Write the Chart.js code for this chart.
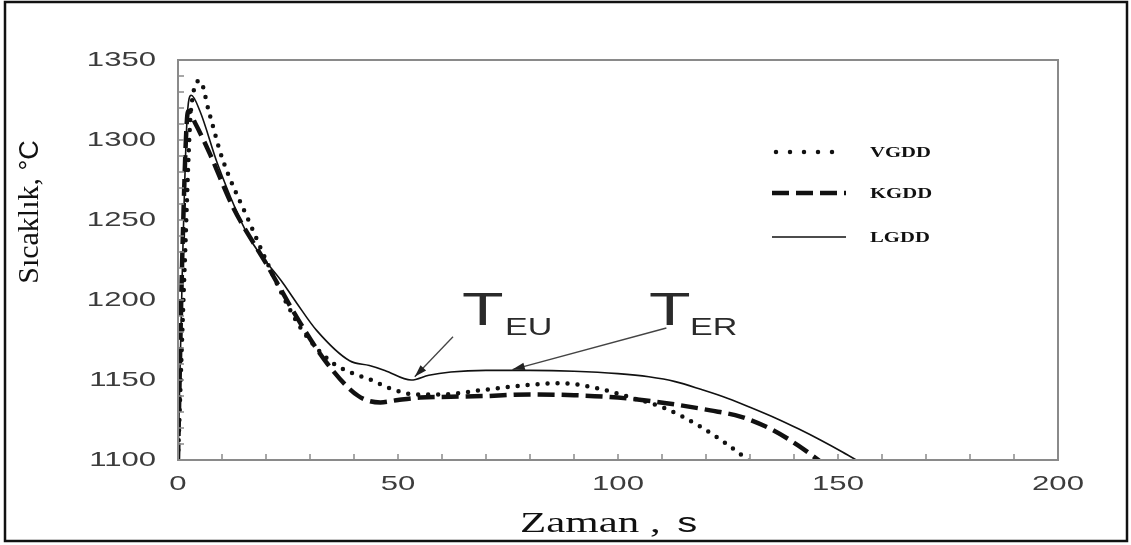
<!DOCTYPE html>
<html>
<head>
<meta charset="utf-8">
<script src="https://cdn.jsdelivr.net/npm/chart.js@4.4.1/dist/chart.umd.min.js"></script>
<style>
  html, body { margin: 0; padding: 0; background: #fff; }
</style>
</head>
<body>
<canvas id="tempChart" width="1131" height="545"></canvas>
<script>
// values (time in s, temperature in °C)
const vgddTime = [0, 1.5, 3, 5, 7, 10, 16, 20, 24.3, 28, 34.5, 39, 44, 48, 54, 60, 70, 80, 87, 95, 103, 111, 118.6, 124.7, 130];
const vgddTemp = [1100, 1220, 1320, 1337, 1318, 1289, 1250, 1225, 1200, 1182, 1162, 1155, 1150, 1145, 1141, 1141, 1144, 1147, 1148, 1145, 1139, 1132, 1121, 1110, 1099];

const kgddTime = [0, 1, 2.3, 4, 7.3, 12.5, 20.2, 27.7, 34, 41, 46, 50, 55, 62, 70, 80, 90, 100, 111, 121, 128, 135, 141, 146];
const kgddTemp = [1100, 1230, 1318, 1310, 1291, 1258, 1222, 1186, 1160, 1140, 1136, 1137.5, 1139, 1139.5, 1140, 1141, 1140.5, 1139, 1135.5, 1131, 1127, 1119, 1109, 1099];

const lgddTime = [0, 1, 2, 3, 5, 9, 16, 24, 27, 31.5, 39, 43.5, 47, 53, 57, 62, 70, 80, 90, 100, 107, 113, 119, 125, 130, 136, 141, 146, 151, 156];
const lgddTemp = [1100, 1220, 1310, 1328, 1318, 1285, 1240, 1210, 1198, 1181, 1162, 1159, 1156, 1150, 1153, 1155, 1156, 1156, 1155.5, 1154, 1152, 1149, 1144, 1138.5, 1133, 1126, 1119.5, 1112.5, 1105, 1097];

const seriesNames = ["VGDD", "KGDD", "LGDD"];
const xTickLabels = [0, 50, 100, 150, 200];
const yTickLabels = [1100, 1150, 1200, 1250, 1300, 1350];

// the original figure is stretched sideways, so text is too
const STRETCH = 1.48;

function toPoints(xs, ys) {
  return xs.map((x, i) => ({ x: x, y: ys[i] }));
}

function wideText(ctx, text, x, y, font, align, color, baseline) {
  ctx.save();
  ctx.font = font;
  ctx.fillStyle = color;
  ctx.textBaseline = baseline || "alphabetic";
  ctx.translate(x, y);
  ctx.scale(STRETCH, 1);
  ctx.textAlign = align;
  ctx.fillText(text, 0, 0);
  let w = ctx.measureText(text).width * STRETCH;
  ctx.restore();
  return w;
}

function arrow(ctx, x1, y1, x2, y2) {
  let ang = Math.atan2(y2 - y1, x2 - x1);
  ctx.save();
  ctx.strokeStyle = "#444";
  ctx.fillStyle = "#222";
  ctx.lineWidth = 1.3;
  ctx.beginPath();
  ctx.moveTo(x1, y1);
  ctx.lineTo(x2, y2);
  ctx.stroke();
  ctx.beginPath();
  ctx.moveTo(x2, y2);
  ctx.lineTo(x2 - 13 * Math.cos(ang - 0.3), y2 - 13 * Math.sin(ang - 0.3));
  ctx.lineTo(x2 - 13 * Math.cos(ang + 0.3), y2 - 13 * Math.sin(ang + 0.3));
  ctx.closePath();
  ctx.fill();
  ctx.restore();
}

const figureDecor = {
  id: "figureDecor",
  afterDraw(chart) {
    const ctx = chart.ctx;
    const area = chart.chartArea;
    const xs = chart.scales.x;
    const ys = chart.scales.y;

    // plot frame
    ctx.save();
    ctx.strokeStyle = "#8a8a8a";
    ctx.lineWidth = 2;
    ctx.strokeRect(area.left, area.top, area.right - area.left, area.bottom - area.top);

    // small inward ticks every 10 units
    ctx.lineWidth = 1.5;
    ctx.beginPath();
    for (let t = 10; t < 200; t += 10) {
      let px = xs.getPixelForValue(t);
      ctx.moveTo(px, area.bottom);
      ctx.lineTo(px, area.bottom - 6);
    }
    for (let v = 1110; v < 1350; v += 10) {
      let py = ys.getPixelForValue(v);
      ctx.moveTo(area.left, py);
      ctx.lineTo(area.left + 6, py);
    }
    ctx.stroke();
    ctx.restore();

    // tick labels
    const tickFont = "21px 'Liberation Sans', Arial, sans-serif";
    yTickLabels.forEach(v => {
      wideText(ctx, String(v), area.left - 22, ys.getPixelForValue(v), tickFont, "right", "#3c3c3c", "middle");
    });
    xTickLabels.forEach(v => {
      wideText(ctx, String(v), xs.getPixelForValue(v), area.bottom + 24, tickFont, "center", "#3c3c3c", "middle");
    });

    // x title: "Zaman , s"
    let tx = 520;
    tx += wideText(ctx, "Zaman", tx, 532, "29px 'Liberation Serif', 'Times New Roman', serif", "left", "#111");
    tx += wideText(ctx, " , ", tx, 532, "29px 'Liberation Serif', 'Times New Roman', serif", "left", "#111");
    wideText(ctx, "s", tx + 6, 532, "27px 'Liberation Sans', Arial, sans-serif", "left", "#111");

    // y title: "Sıcaklık, °C" rotated
    ctx.save();
    ctx.translate(38, 212);
    ctx.rotate(-Math.PI / 2);
    ctx.fillStyle = "#111";
    ctx.textBaseline = "alphabetic";
    ctx.textAlign = "left";
    const serifY = "30px 'Liberation Serif', 'Times New Roman', serif";
    const sansY = "27px 'Liberation Sans', Arial, sans-serif";
    ctx.font = serifY;
    let w1 = ctx.measureText("Sıcaklık, ").width;
    ctx.font = sansY;
    let w2 = ctx.measureText("°C").width;
    let start = -(w1 + w2) / 2;
    ctx.font = serifY;
    ctx.fillText("Sıcaklık, ", start, 0);
    ctx.font = sansY;
    ctx.fillText("°C", start + w1, 0);
    ctx.restore();

    // legend
    const legendY = [152, 193, 237];
    chart.data.datasets.forEach((ds, i) => {
      ctx.save();
      ctx.strokeStyle = ds.borderColor;
      ctx.lineWidth = ds.borderWidth;
      ctx.lineCap = ds.borderCapStyle || "butt";
      ctx.setLineDash(i === 0 ? [0, 14] : (ds.borderDash || []));
      ctx.beginPath();
      ctx.moveTo(i === 0 ? 776 : 772, legendY[i]);
      ctx.lineTo(846, legendY[i]);
      ctx.stroke();
      ctx.restore();
      wideText(ctx, seriesNames[i], 870, legendY[i] + 1, "bold 14px 'Liberation Serif', 'Times New Roman', serif", "left", "#111", "middle");
    });

    // T_EU and T_ER markers
    const bigT = "46px 'Liberation Sans', Arial, sans-serif";
    const subT = "23px 'Liberation Sans', Arial, sans-serif";
    wideText(ctx, "T", 462, 325, bigT, "left", "#2a2a2a");
    wideText(ctx, "EU", 505, 335, subT, "left", "#2a2a2a");
    wideText(ctx, "T", 649, 325, bigT, "left", "#2a2a2a");
    wideText(ctx, "ER", 690, 335, subT, "left", "#2a2a2a");
    arrow(ctx, xs.getPixelForValue(62.5), ys.getPixelForValue(1177), xs.getPixelForValue(53.8), ys.getPixelForValue(1152));
    arrow(ctx, xs.getPixelForValue(111), ys.getPixelForValue(1182.5), xs.getPixelForValue(76), ys.getPixelForValue(1156.5));

    // outer border of the figure
    ctx.save();
    ctx.strokeStyle = "#111";
    ctx.lineWidth = 2.5;
    ctx.strokeRect(5, 2, 1122, 539);
    ctx.restore();
  }
};

const ctx = document.getElementById("tempChart").getContext("2d");

new Chart(ctx, {
  type: "scatter",
  data: {
    datasets: [
      {
        label: seriesNames[0],
        data: toPoints(vgddTime, vgddTemp),
        showLine: true,
        borderColor: "#111",
        borderWidth: 4.5,
        borderDash: [0, 10],
        borderCapStyle: "round",
        pointRadius: 0,
        cubicInterpolationMode: "monotone",
      },
      {
        label: seriesNames[1],
        data: toPoints(kgddTime, kgddTemp),
        showLine: true,
        borderColor: "#111",
        borderWidth: 4.5,
        borderDash: [17, 7],
        pointRadius: 0,
        cubicInterpolationMode: "monotone",
      },
      {
        label: seriesNames[2],
        data: toPoints(lgddTime, lgddTemp),
        showLine: true,
        borderColor: "#111",
        borderWidth: 1.6,
        pointRadius: 0,
        cubicInterpolationMode: "monotone",
      },
    ],
  },
  options: {
    responsive: false,
    animation: false,
    devicePixelRatio: 1,
    layout: { padding: { top: 60, right: 73, left: 0, bottom: 0 } },
    plugins: {
      legend: { display: false },
      tooltip: { enabled: false },
    },
    scales: {
      x: {
        type: "linear",
        min: 0,
        max: 200,
        grid: { display: false },
        border: { display: false },
        ticks: { display: false },
        afterFit: function (scale) { scale.height = 85; },
      },
      y: {
        type: "linear",
        min: 1100,
        max: 1350,
        grid: { display: false },
        border: { display: false },
        ticks: { display: false },
        afterFit: function (scale) { scale.width = 178; },
      },
    },
  },
  plugins: [figureDecor],
});
</script>
</body>
</html>
